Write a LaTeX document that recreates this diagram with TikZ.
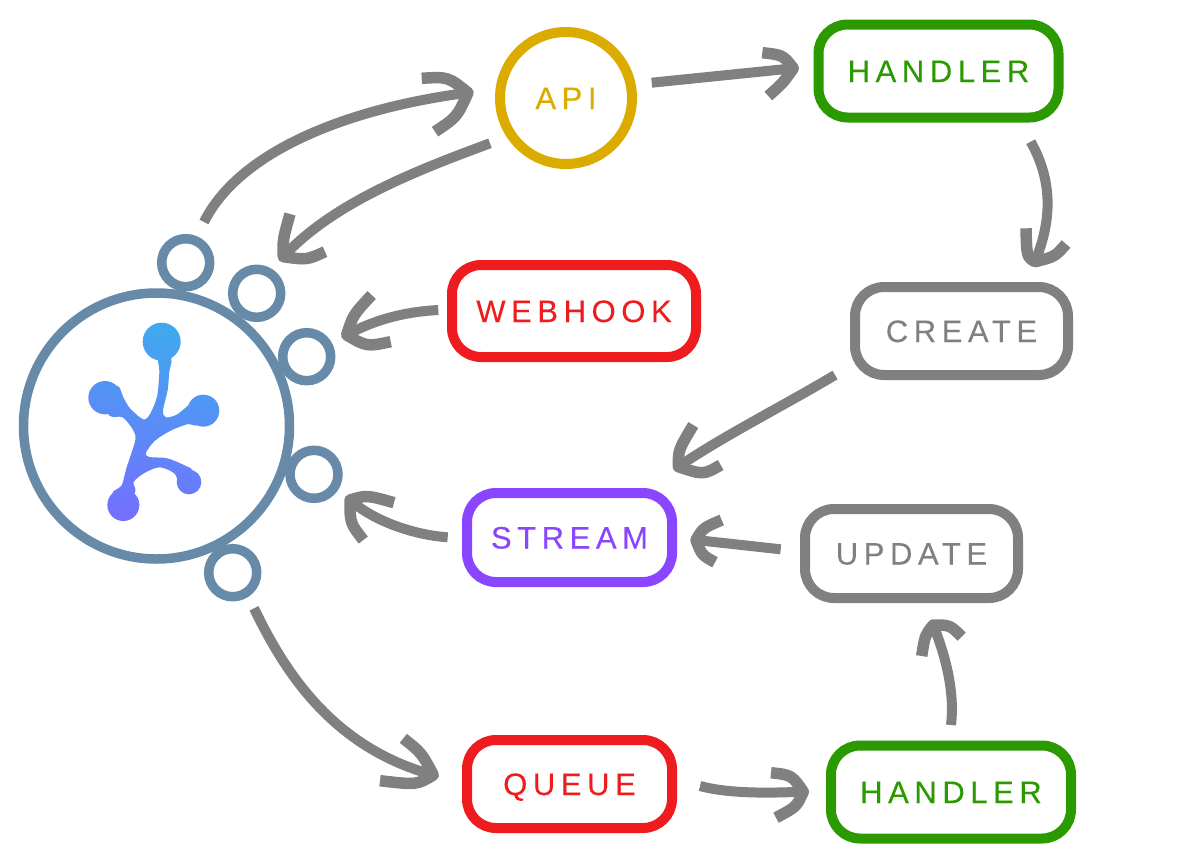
\documentclass[tikz,border=0pt]{standalone}
\usepackage{fontspec}
\usetikzlibrary{calc}
\newfontfamily\lblfont[LetterSpace=18,FakeBold=0.15]{Liberation Sans}
\definecolor{cgray}{HTML}{808080}
\definecolor{cgreen}{HTML}{2B9A00}
\definecolor{cred}{HTML}{EE1C1E}
\definecolor{cpurple}{HTML}{8A45FF}
\definecolor{cgold}{HTML}{DCAB00}
\definecolor{chub}{HTML}{668AA8}
\definecolor{ltop}{HTML}{3FAAEE}
\definecolor{lbot}{HTML}{7370FF}
\tikzset{
  labelled/.style={font=\lblfont\fontsize{31}{31}\selectfont, inner sep=0pt, outer sep=0pt, align=center, text height=22pt, text depth=0pt},
  boxnode/.style={labelled, draw=#1, text=#1, line width=10pt, rounded corners=29pt},
  greenbox/.style={boxnode=cgreen, minimum width=240pt, minimum height=93pt},
  redbox/.style={boxnode=cred},
  purplebox/.style={boxnode=cpurple},
  graybox/.style={boxnode=cgray},
  port/.style={circle, draw=chub, line width=9.5pt, minimum size=48pt, inner sep=0pt, outer sep=0pt},
  conn/.style={draw=cgray, line width=10pt, line cap=butt, line join=round},
  barb/.style={draw=cgray, line width=11.5pt, line cap=butt, line join=round},
}
% \barbs{tip}{end1}{ctrl1}{end2}{ctrl2}
\newcommand{\barbs}[5]{\draw[barb] (#2) .. controls (#3) .. (#1) .. controls (#5) .. (#4);}
\begin{document}
\begin{tikzpicture}[x=1pt,y=-1pt]
\useasboundingbox (0,0) rectangle (1186,854);
\fill[white] (0,0) rectangle (1186,854);
% nodes
\node[circle, draw=chub, line width=9.5pt, minimum size=266pt, inner sep=0pt, outer sep=0pt] (hub) at (156.5,426) {};
\node[port] (p1) at (185.7,262.7) {};
\node[port] (p2) at (256.7,293.3) {};
\node[port] (p3) at (306.7,356.7) {};
\node[port] (p4) at (314,474.3) {};
\node[port] (p5) at (232.7,572.7) {};
\node[labelled, circle, draw=cgold, text=cgold, line width=10pt, minimum size=132pt] (api) at (566,98) {API};
\node[greenbox] (h1) at (938.5,71) {HANDLER};
\node[greenbox] (h2) at (951,792) {HANDLER};
\node[redbox, minimum width=244pt, minimum height=92pt] (webhook) at (574,311) {WEBHOOK};
\node[graybox, minimum width=213pt, minimum height=88pt] (create) at (961.5,331) {CREATE};
\node[purplebox, minimum width=205pt, minimum height=89pt] (stream) at (569.5,537.5) {STREAM};
\node[graybox, minimum width=213pt, minimum height=89pt] (update) at (911.5,553.5) {UPDATE};
\node[redbox, minimum width=205pt, minimum height=88pt] (queue) at (569.5,784) {QUEUE};
% logo
\begin{scope}[shift={(60,300)}, x=0.33333pt, y=-0.33333pt]
\begin{scope}
\clip plot[smooth cycle, tension=0.5] coordinates {
(334,176)(328,215)(323,270)(309,332)(318,352)(350,344)(385,316)(410,296)(445,340)(410,376)(385,372)(332,392)(285,422)(258,458)(268,471)(322,475)(378,498)(398,512)(398,560)(360,562)(345,522)(300,502)(255,518)(221,546)(226,575)(190,620)(157,580)(185,556)(199,505)(226,420)(218,388)(188,352)(150,348)(125,300)(172,258)(190,292)(210,325)(250,358)(270,342)(291,290)(298,215)(294,176)(305,130)}
(305,125) circle[radius=57]
(135,293) circle[radius=50]
(430,332) circle[radius=48]
(190,615) circle[radius=48]
(387,546) circle[radius=37];
\shade[top color=ltop, bottom color=lbot, shading angle=-15] (60,50) rectangle (500,680);
\end{scope}
\end{scope}
% connector ends, placed from the nodes
\coordinate (c1s) at ($(p1)+(18.3,-40.7)$);
\coordinate (c1t) at ($(api)+(-98,-5.3)$);
\coordinate (c2s) at ($(api)+(-76,45.3)$);
\coordinate (c2t) at ($(p2)+(26.6,-36.6)$);
\coordinate (c3s) at ($(webhook)+(-135.7,-1)$);
\coordinate (c3t) at ($(p3)+(40,-21.7)$);
\coordinate (c4s) at ($(stream)+(-121.8,-0.2)$);
\coordinate (c4t) at ($(p4)+(36,25.7)$);
\coordinate (c5s) at ($(p5)+(21.3,35.6)$);
\coordinate (c5t) at ($(queue)+(-136.2,-9)$);
\coordinate (c6s) at ($(api)+(85.7,-15.3)$);
\coordinate (c6t) at ($(h1)+(-145.2,-2.7)$);
\coordinate (c7s) at ($(h1)+(92.2,70.7)$);
\coordinate (c7t) at ($(create)+(73.5,-69.3)$);
\coordinate (c8s) at ($(create)+(-126.5,44)$);
\coordinate (c8t) at ($(stream)+(108.8,-70.8)$);
\coordinate (c9s) at ($(update)+(-130.8,-4.2)$);
\coordinate (c9t) at ($(stream)+(126.5,2.5)$);
\coordinate (c10s) at ($(h2)+(0,-67)$);
\coordinate (c10t) at ($(update)+(21.8,71.5)$);
\coordinate (c11s) at ($(queue)+(130.5,2)$);
\coordinate (c11t) at ($(h2)+(-147.7,-0.3)$);
% connectors
\draw[conn] (c1s) .. controls (240,150) and (350,108) .. (c1t);
\barbs{c1t}{421.7,78.3}{448,76.7}{435,131.7}{457,117}
\draw[conn] (c2s) .. controls (415,171) and (333,203) .. (c2t);
\barbs{c2t}{290,214}{282.7,240}{325,251.7}{306.7,260}
\draw[conn] (c3s) .. controls (400,312) and (370,322) .. (c3t);
\barbs{c3t}{371.7,295}{353,315}{390.7,341.7}{366.7,346.7}
\draw[conn] (c4s) .. controls (415,535) and (375,522) .. (c4t);
\barbs{c4t}{394,502.7}{366.7,495}{363.3,540}{350,523}
\draw[conn] (c5s) .. controls (283,668) and (330,747) .. (c5t);
\barbs{c5t}{403.3,738.3}{421.7,753}{380,780.7}{416.7,785}
\draw[conn] (c6s) -- (c6t);
\barbs{c6t}{762.3,52.7}{783,55}{768.3,96}{783,83}
\draw[conn] (c7s) .. controls (1055,185) and (1050,225) .. (c7t);
\barbs{c7t}{1026,228.3}{1026.7,256.7}{1066,244}{1055,256.7}
\draw[conn] (c8s) .. controls (785,405) and (725,435) .. (c8t);
\barbs{c8t}{693.3,425}{678.3,450}{720.7,465}{703.3,475}
\draw[conn] (c9s) -- (c9t);
\barbs{c9t}{721.7,520}{703,528}{715,562.3}{701.7,555}
\draw[conn] (c10s) .. controls (955,690) and (945,655) .. (c10t);
\barbs{c10t}{921.7,656}{925,635}{961.7,636.7}{950,625}
\draw[conn] (c11s) .. controls (730,794) and (770,793) .. (c11t);
\barbs{c11t}{771,772.7}{791.7,775}{776,817.7}{796.7,806.7}
\end{tikzpicture}
\end{document}
